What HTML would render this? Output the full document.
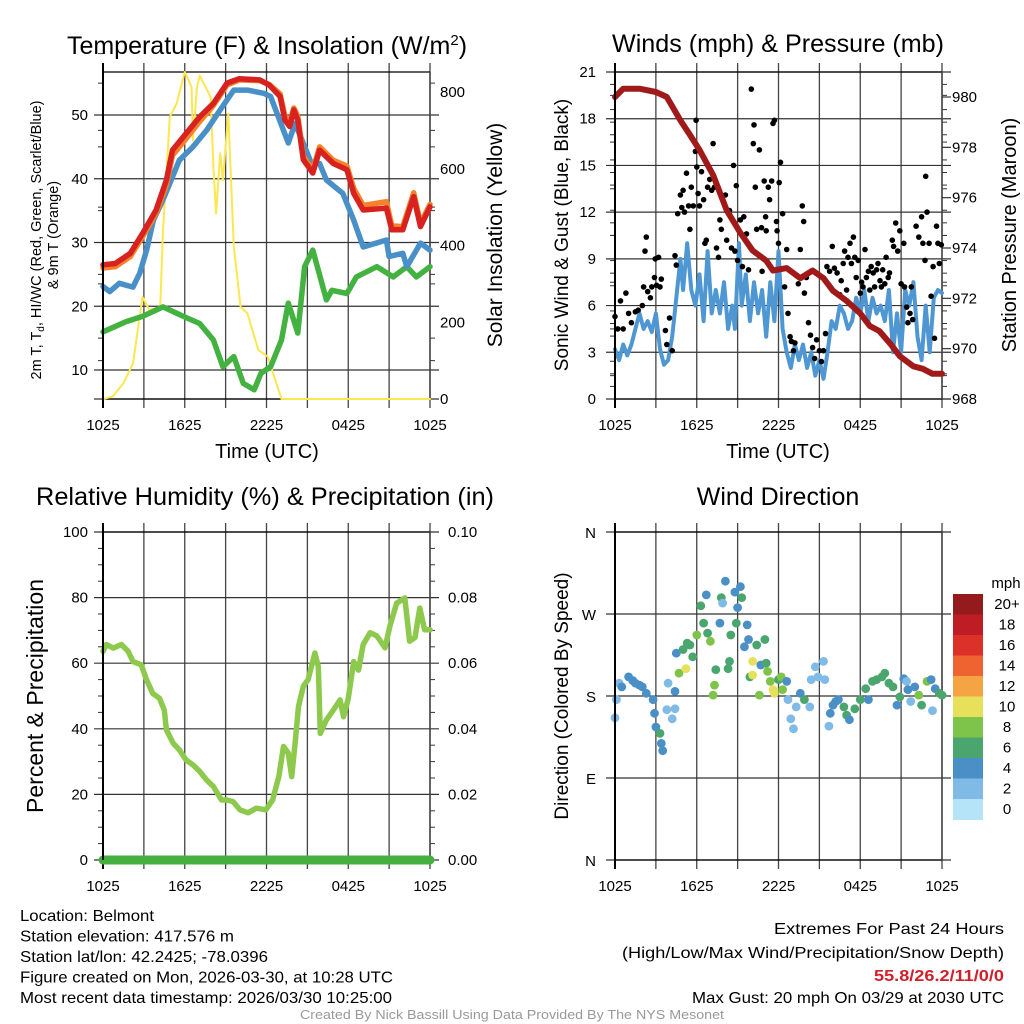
<!DOCTYPE html>
<html><head><meta charset="utf-8"><style>
html,body{margin:0;padding:0;background:#fff;}
svg{display:block;font-family:"Liberation Sans",Arial,sans-serif;}
</style></head><body>
<svg id="c" width="1024" height="1024" viewBox="0 0 1024 1024" xmlns="http://www.w3.org/2000/svg"></svg>
<script>
// ---------- DATA ----------
const timeTickLabels = ["1025","1625","2225","0425","1025"];
const tempTicks = [10,20,30,40,50];
const solarTicks = [0,200,400,600,800];
const windTicks = [0,3,6,9,12,15,18,21];
const presTicks = [968,970,972,974,976,978,980];
const rhTicks = [0,20,40,60,80,100];
const precipTicks = ["0.00","0.02","0.04","0.06","0.08","0.10"];
const dirLabels = ["N","E","S","W","N"];
const speedBins = ["0","2","4","6","8","10","12","14","16","18","20+"];
const speedColors = ["#b5e3f7","#7fbbe6","#4a8fc6","#4aa66e","#7ec34a","#e6e05a","#f5a444","#ee6330","#dc3128","#bf1d26","#941a1c"];

const tempT   = [0,0.9,2,2.9,3.9,4.65,5.1,6.1,7.1,8.1,9.1,10,11.5,12.2,13,13.35,13.7,14,14.3,14.7,15.4,15.9,16.9,17.9,18.4,19.1,20.8,21.2,22,22.8,23.3,24];
const tempV   = [26.5,26.7,28.3,31.4,35.1,39.8,44.5,47.1,49.7,51.8,55,55.7,55.5,54.7,52.9,49.2,48.2,50.8,49.2,43,40.9,44.5,42.4,41.4,37.7,35.1,35.4,32,32,37.2,32.5,35.6];
const temp9T  = [0,0.9,2,2.9,3.9,4.65,5.1,6.1,7.1,8.1,9.1,10,11.5,12.2,13,13.35,13.7,14,14.3,14.7,15.4,15.9,16.9,17.9,18.4,19.1,20.8,21.2,22,22.8,23.3,24];
const temp9V  = [26,26.2,27.8,30.9,34.6,39,43.7,46.3,49,51.5,54.7,55.5,55.4,54.8,53.3,49.8,48.8,51.1,49.8,43.5,41.4,45,42.9,42,38.5,35.8,36.4,32.6,32.5,37.8,33,36];
const chillT  = [0,0.5,1.2,2.2,2.7,3.2,3.7,4.4,5.1,5.6,6.6,7.6,8.6,9.6,10.6,11.8,12.3,13.6,14.1,14.6,15.3,15.9,16.4,17.6,18.4,19.1,20.8,21,22,22.3,23.3,24];
const chillV  = [23.1,22.3,23.6,23,25.2,28.8,33.5,36.7,40.3,42.9,45,47.6,50.8,53.9,53.9,53.4,52.9,45.6,48.7,46.1,42.4,42.4,39.8,37.7,33.5,29.3,30.4,27.8,28.3,26.2,29.9,28.8];
const dewT    = [0,1.7,2.9,4.4,5.9,7.1,8.1,8.8,9.6,10.3,11.1,11.6,12.3,13.1,13.6,14.3,14.8,15.4,16.4,16.8,17.9,18.6,20.1,21.3,22.3,23,24];
const dewV    = [16,17.6,18.4,19.9,18.4,17.3,14.7,10.5,12.1,7.9,6.9,9.5,10.5,14.7,20.5,15.8,26.2,28.8,21,22.5,22,24.6,26.2,24.6,26.2,24.6,26.2];
const solarT  = [0,0.7,1.5,2.2,2.9,3.4,4.2,4.4,4.9,5.4,6,6.5,6.6,6.9,7.1,7.9,8.1,8.3,8.6,8.8,9.2,9.6,10.1,10.6,11.4,12.1,12.8,13.1,24];
const solarV  = [0,6,41,93,266,232,240,440,735,770,852,813,674,813,843,787,605,483,640,570,744,397,240,223,128,110,32,0,0];
const presT   = [0,0.6,1.8,3,3.8,4.8,5.5,6.2,7.2,8.2,9.2,10.1,11.1,11.6,12.6,13.6,14.5,15.3,16,17,18,18.7,19.4,20.2,20.9,21.9,22.6,23.3,24];
const presV   = [980,980.33,980.33,980.2,980,979.07,978.5,977.9,976.9,975.5,974.6,973.9,973.5,973.1,973.2,972.8,973.1,972.8,972.3,971.9,971.4,970.9,970.7,970.2,969.7,969.3,969.2,969,969];
const windT   = [0,0.3,0.6,0.9,1.2,1.5,1.8,2.1,2.4,2.7,3,3.3,3.6,3.9,4.2,4.5,4.8,5,5.3,5.6,5.9,6.2,6.5,6.8,7.1,7.4,7.7,8,8.3,8.6,8.8,9.1,9.3,9.6,9.9,10.2,10.5,10.8,11.1,11.4,11.7,12,12.3,12.6,12.9,13.2,13.5,13.8,14.1,14.4,14.7,15,15.3,15.6,15.9,16.2,16.5,16.8,17.1,17.4,17.7,18,18.3,18.6,18.9,19.2,19.5,19.8,20.1,20.4,20.7,21,21.3,21.6,21.9,22.2,22.5,22.8,23.1,23.4,23.7,24];
const windV   = [3.2,2.5,3.5,2.8,3.5,4.5,5.5,4.5,5,4.3,5.5,3.2,2.2,2.5,4,6.5,9,7,10,7,6,8,5,9.5,5.5,7,5.5,7.5,4.5,6,4.5,10,6,8,5,7.5,5.5,7,4,7.5,5,9.5,4.5,3,2,3.5,2.5,3.5,2,3,1.5,2.5,1.3,3,5,4.5,6,5.5,4.5,5,6.5,5.5,7,5,6.5,5.5,6,5,7,3,5.5,3,7,6,7.5,4,2.5,6,3,6.5,7,6.8];
const gustT   = [0,0.2,0.4,0.6,0.8,1,1.2,1.5,1.7,2,2.1,2.2,2.3,2.4,2.6,2.7,2.9,2.95,3.2,3.05,3.3,3.4,3.7,3.8,4,4.2,4.4,4.5,4.6,4.8,4.9,5,5.1,5.25,5.4,5.5,5.6,5.75,5.9,5.95,6,6.1,6.2,6.35,6.5,6.6,6.7,6.8,6.95,7.1,7.2,7.3,7.45,7.6,7.7,7.8,8.1,8.2,8.4,8.55,8.7,8.8,8.9,9,9.2,9.35,9.45,9.65,9.8,10,10.15,10.2,10.3,10.4,10.6,10.75,10.8,10.95,11.05,11.1,11.25,11.35,11.5,11.6,11.7,11.85,11.9,12,12.05,12.15,12.3,12.45,12.6,12.7,12.85,12.95,13.1,13.2,13.45,13.6,13.75,13.85,13.9,14.05,14.2,14.35,14.5,14.65,14.8,15,15.15,15.3,15.45,15.55,15.75,15.95,16.1,16.3,16.5,16.6,16.75,16.85,17,17.1,17.25,17.35,17.5,17.6,17.7,17.85,18,18.1,18.2,18.35,18.45,18.6,18.7,18.8,18.95,19.05,19.2,19.3,19.45,19.55,19.65,19.8,19.9,20.05,20.15,20.35,20.45,20.6,20.75,20.9,21,21.2,21.25,21.4,21.5,21.65,21.75,21.85,22.1,22.3,22.5,22.6,22.75,22.8,22.9,23.05,23.2,23.35,23.45,23.6,23.7,23.8,23.95];
const gustV   = [5.3,4.5,6.3,4.5,6.8,5.5,4.9,5.6,5.7,6,7.2,9.5,10.4,6.9,6.5,7.2,7.8,9,9.1,7.3,7.2,7.7,4.4,3.5,5.2,3.1,9.2,8.6,11.9,13.1,12.3,13.4,12,14.5,12.4,10.9,13.6,12.4,15.9,17.9,14.9,13.2,12.4,14.6,12.8,10,10.2,13.6,14.1,13.4,16.4,13.6,9.7,9.1,11.5,10.9,13.1,10.2,12.1,9.7,15,9.5,13.7,8.9,11.5,8.5,11.7,10.6,8.3,19.9,16.4,17.6,13.6,10.9,16,11,8.2,14,11.7,10.8,13.6,12.8,14,17.7,17.9,11.4,10.8,10,13.9,15.2,11.9,7.2,9.6,5.5,4,3.7,3.1,3.6,7.4,9.6,12.4,11.4,6.8,7.8,4.9,4.1,3.3,2.6,3.8,3.1,2.4,3.1,4.2,8.5,8.2,9.8,8.4,8.1,6.7,7.6,8.7,9.5,7,9.1,10,8.7,10.4,9.1,7.8,8.9,6.8,7.5,7.2,9.6,7.8,8.2,7,8.5,8.1,7.2,8.3,8.7,7.6,7.2,8.3,7.4,9.1,7.8,8.1,10.2,9.8,11.3,9.5,10.8,7.4,10,7.2,5.9,4.9,5.5,7.2,5.1,11.1,10.4,11.7,10,8.9,14.3,12,10,6.6,8.5,3.9,11.1,10,8.7,9.9];
const rhT     = [0,0.25,0.75,1.35,1.85,2.2,2.8,3.2,3.65,4.15,4.5,4.65,5.15,5.6,6.1,6.6,7.1,7.6,8.1,8.7,9.1,9.55,10.05,10.65,11.25,11.95,12.45,12.9,13.25,13.6,13.85,14.1,14.35,14.7,15.05,15.55,15.8,15.95,16.4,16.9,17.4,17.65,18,18.4,18.75,19.1,19.6,20.1,20.7,21.05,21.55,22.15,22.5,22.9,23.25,23.6,24];
const rhV     = [63.6,65.7,64.6,65.7,63.6,60.5,59.5,54.9,50.8,49.3,45.7,39.7,35.6,33.6,30.5,29,27,24.4,22.4,18.3,18.3,17.8,15.3,14.4,15.8,15.3,18.3,25.4,34.6,32.6,25.4,35.6,46.8,53,55,63.1,59,38.6,42.7,45.7,48.8,43.7,49.3,60.5,57.9,65.7,69.3,68.3,64.7,71.2,78.3,79.9,66.7,67.8,76.8,70.2,70.2];
const precipT = [0,24];
const precipV = [0,0];
const dirT    = [0,0.1,0.3,0.5,1,1.3,1.5,1.8,2,2.3,2.8,2.9,3,3.3,3.4,3.5,3.8,3.9,4.2,4.4,4.4,4.5,4.7,5,5.2,5.3,5.5,5.7,6,6.3,6.5,6.7,6.8,7,7.2,7.3,7.4,7.7,7.8,7.9,8.1,8.3,8.4,8.5,8.8,8.9,9,9.2,9.3,9.5,9.7,9.8,9.9,10.1,10.1,10.4,10.6,10.7,11,11.1,11.2,11.4,11.6,11.7,12,12.2,12.3,12.6,12.7,12.9,13.1,13.3,13.6,13.9,14.3,14.4,14.7,14.9,15.3,15.4,15.7,15.8,16,16.2,16.4,16.8,17,17.2,17.6,18,18.4,18.6,18.9,19.2,19.6,19.8,20.1,20.4,20.7,20.9,21.2,21.4,21.5,21.7,22,22.3,22.5,22.9,23.2,23.3,23.5,23.8,24];
const dirV    = [156,176,194,190,201,197,194,192,190,183,176,161,146,139,128,120,165,194,155,166,185,227,205,231,210,238,236,223,247,279,260,291,249,240,181,192,209,260,288,282,306,210,218,247,294,260,277,300,288,234,258,242,201,218,203,236,181,214,242,216,207,196,187,183,198,201,187,196,176,155,144,168,183,176,168,198,212,201,218,198,147,161,170,174,176,168,159,154,166,176,188,176,196,198,201,205,194,190,170,179,199,196,187,174,190,181,170,196,198,164,188,183,181];
const dirS    = [3,3,3,5,5,5,5,5,5,5,5,5,5,7,5,5,3,3,3,3,5,5,9,7,11,7,7,7,9,7,7,5,7,9,9,9,7,5,7,3,5,7,7,7,5,7,5,5,7,5,5,5,7,11,11,7,9,5,7,7,9,9,11,11,7,9,9,5,3,3,3,3,5,7,3,3,3,3,3,3,3,5,5,5,5,7,7,5,7,7,7,5,7,7,7,7,7,7,5,7,5,3,5,3,5,9,7,9,5,3,5,7,7];

// ---------- HELPERS ----------
const NS="http://www.w3.org/2000/svg";
const svg=document.getElementById('c');
function mk(tag,parent){const e=document.createElementNS(NS,tag);(parent||svg).appendChild(e);return e;}
function txt(s,x,y,size,anchor,parent,rot){const e=mk('text',parent);e.textContent=s;e.setAttribute('x',x);e.setAttribute('y',y);e.setAttribute('font-size',size);e.setAttribute('text-anchor',anchor||'middle');if(rot){e.setAttribute('transform','rotate(-90 '+x+' '+y+')');}return e;}
function fit(e,len){e.setAttribute('textLength',len);e.setAttribute('lengthAdjust','spacingAndGlyphs');}
function line(x1,y1,x2,y2,stroke,w,parent){const e=mk('line',parent);e.setAttribute('x1',x1);e.setAttribute('y1',y1);e.setAttribute('x2',x2);e.setAttribute('y2',y2);e.setAttribute('stroke',stroke);e.setAttribute('stroke-width',w);return e;}
function poly(ts,vs,sx,sy,stroke,w,parent){const e=mk('polyline',parent);e.setAttribute('points',ts.map((t,i)=>sx(t).toFixed(1)+','+sy(vs[i]).toFixed(1)).join(' '));e.setAttribute('fill','none');e.setAttribute('stroke',stroke);e.setAttribute('stroke-width',w);e.setAttribute('stroke-linejoin','round');e.setAttribute('stroke-linecap','round');return e;}
function colorFor(s){let i=Math.min(10,Math.floor(s/2));return speedColors[i];}

function panel(L,R,T,B){
  const sx=t=>L+t*(R-L)/24;
  return {L,R,T,B,sx};
}
function frame(p,g,hLines,minorY){
  for(let k=0;k<=8;k++){const x=p.sx(k*3);const l=line(x,p.T-9,x,p.B+9,(k==0)?'#000':'#444',(k==0)?2:1.3,g);}
  hLines.forEach(y=>{const l=line(p.L-9,y,p.R+9,y,'#333',1.2,g);});
  (minorY||[]).forEach(y=>{line(p.L-5,y,p.L,y,'#333',1,g);line(p.R,y,p.R+5,y,'#333',1,g);});
  line(p.L,p.T,p.R,p.T,'#000',1.3,g);
  line(p.L,p.B,p.R,p.B,'#000',1.3,g);
  line(p.R,p.T,p.R,p.B,'#444',1.5,g);
}
function xLabels(p,g,y){timeTickLabels.forEach((s,i)=>{const e=txt(s,p.sx(i*6),y,15,'middle',g);});}

// ---------- PANEL 1: Temperature ----------
{
const g=mk('g');
const p=panel(103,430,72,399);
const yT=v=>370-(v-10)*6.375;
const yS=v=>399-v*307/800;
frame(p,g,tempTicks.map(yT).concat([399]),solarTicks.map(v=>yS(v+100)).concat([yT(15),yT(25),yT(35),yT(45),yT(55)]));
const t=txt('',267,54,25,'middle',g);
t.innerHTML='Temperature (F) &amp; Insolation (W/m<tspan dy="-9" font-size="15">2</tspan><tspan dy="9">)</tspan>';
tempTicks.forEach(v=>{const e=txt(String(v),88,yT(v)+5,15,'end',g);});
solarTicks.forEach(v=>{const e=txt(String(v),440,yS(v)+5,15,'start',g);});
xLabels(p,g,430);
let e=txt('Time (UTC)',267,458,20,'middle',g);
e=txt('',41,240,14.5,'middle',g,true);
e.innerHTML='2m T, T<tspan dy="3" font-size="10">d</tspan><tspan dy="-3">, HI/WC (Red, Green, Scarlet/Blue)</tspan>';
e=txt('',58,235,14.5,'middle',g,true);e.textContent='& 9m T (Orange)';
e=txt('Solar Insolation (Yellow)',502,235,21,'middle',g,true);
const cp=mk('clipPath',g);cp.setAttribute('id','cp1');const r=mk('rect',cp);r.setAttribute('x',100);r.setAttribute('y',62);r.setAttribute('width',334);r.setAttribute('height',340);
const dg=mk('g',g);dg.setAttribute('clip-path','url(#cp1)');
e=poly(solarT,solarV,p.sx,yS,'#fde74f',2,dg);
e=poly(dewT,dewV,p.sx,yT,'#43b240',5.5,dg);
e=poly(chillT,chillV,p.sx,yT,'#4a90c8',5.5,dg);
e=poly(temp9T,temp9V,p.sx,yT,'#f5822a',5.5,dg);
e=poly(tempT,tempV,p.sx,yT,'#d7221f',5.5,dg);
line(p.L,p.T-9,p.L,p.B+9,'#000',2,g);
}

// ---------- PANEL 2: Winds ----------
{
const g=mk('g');
const p=panel(615,942,72,399);
const yW=v=>399-v*327/21;
const yP=v=>399-(v-968)*302/12;
const minor=[];for(let v=968.5;v<981;v+=0.5){if(Math.abs(v-Math.round(v/2)*2)>0.01)minor.push(yP(v));}
for(let v=1.5;v<21;v+=3)minor.push(yW(v));
frame(p,g,windTicks.map(yW),minor);
presTicks.forEach(v=>line(p.R,yP(v),p.R+9,yP(v),'#333',1.2,g));
let e=txt('Winds (mph) & Pressure (mb)',778,52,25,'middle',g);fit(e,332);
windTicks.forEach(v=>{const t=txt(String(v),596,yW(v)+5,15,'end',g);});
presTicks.forEach(v=>{const t=txt(String(v),952,yP(v)+5,15,'start',g);});
xLabels(p,g,430);
e=txt('Time (UTC)',778,458,20,'middle',g);
e=txt('Sonic Wind & Gust (Blue, Black)',568,235,19,'middle',g,true);
e=txt('Station Pressure (Maroon)',1016,235,20,'middle',g,true);
e=poly(windT,windV,p.sx,yW,'#4f97d2',4,g);
const gg=mk('g',g);
gustT.forEach((t,i)=>{const c=mk('circle',gg);c.setAttribute('cx',p.sx(t).toFixed(1));c.setAttribute('cy',yW(gustV[i]).toFixed(1));c.setAttribute('r',2.8);c.setAttribute('fill','#000');});
e=poly(presT,presV,p.sx,yP,'#a01a1a',6,g);
line(p.L,p.T-9,p.L,p.B+9,'#000',2,g);
}

// ---------- PANEL 3: RH ----------
{
const g=mk('g');
const p=panel(103,430,532,860);
const yR=v=>860-v*3.28;
const yPr=v=>860-v*3280;
const minor=[];for(let v=10;v<100;v+=20)minor.push(yR(v));for(let v=5;v<100;v+=10)minor.push(yR(v));
frame(p,g,rhTicks.map(yR),minor);
let e=txt('Relative Humidity (%) & Precipitation (in)',265,505,25,'middle',g);fit(e,458);
rhTicks.forEach(v=>{const t=txt(String(v),88,yR(v)+5,15,'end',g);});
precipTicks.forEach(s=>{const t=txt(s,448,yPr(parseFloat(s))+5,15,'start',g);});
xLabels(p,g,891);
e=txt('Percent & Precipitation',43,696,23,'middle',g,true);
e=poly(rhT,rhV,p.sx,yR,'#8dc94c',5.5,g);
e=poly(precipT,precipV,p.sx,yPr,'#45b040',9,g);
line(p.L,p.T-9,p.L,p.B,'#000',2,g);
}

// ---------- PANEL 4: Wind Direction ----------
{
const g=mk('g');
const p=panel(615,942,532,860);
const yD=v=>860-v*328/360;
frame(p,g,[0,90,180,270,360].map(yD),[]);
let e=txt('Wind Direction',778,505,25,'middle',g);
dirLabels.forEach((s,i)=>{const t=txt(s,596,yD(i*90)+6,15,'end',g);});
xLabels(p,g,891);
e=txt('Direction (Colored By Speed)',568,696,19,'middle',g,true);
const dg=mk('g',g);
dirT.forEach((t,i)=>{const c=mk('circle',dg);c.setAttribute('cx',p.sx(t).toFixed(1));c.setAttribute('cy',yD(dirV[i]).toFixed(1));c.setAttribute('r',4.4);c.setAttribute('fill',colorFor(dirS[i]));});
line(p.L,p.T-9,p.L,p.B,'#000',2,g);
const lg=mk('g',g);
e=txt('mph',1006,588,15,'middle',lg);
const top=594,h=20.5;
speedBins.forEach((s,i)=>{const k=10-i;const r=mk('rect',lg);r.setAttribute('x',953);r.setAttribute('y',(top+i*h).toFixed(1));r.setAttribute('width',30);r.setAttribute('height',h+0.5);r.setAttribute('fill',speedColors[k]);
const t=txt(speedBins[k],1007,top+i*h+15,15,'middle',lg);});
}

// ---------- FOOTER ----------
{
const g=mk('g');
const L=["Location: Belmont","Station elevation: 417.576 m","Station lat/lon: 42.2425; -78.0396","Figure created on Mon, 2026-03-30, at 10:28 UTC","Most recent data timestamp: 2026/03/30 10:25:00"];
const Lw=[134,214,248,373,372];
L.forEach((s,i)=>{const t=txt(s,20,921+i*20.5,16,'start',g);fit(t,Lw[i]);});
let t=txt('Extremes For Past 24 Hours',1004,934,16,'end',g);fit(t,230);
t=txt('(High/Low/Max Wind/Precipitation/Snow Depth)',1004,958,16,'end',g);fit(t,382);
t=txt('55.8/26.2/11/0/0',1004,981,16,'end',g);fit(t,130);t.setAttribute('fill','#d0202a');t.setAttribute('font-weight','bold');
t=txt('Max Gust: 20 mph On 03/29 at 2030 UTC',1004,1003,16,'end',g);fit(t,312);
t=txt('Created By Nick Bassill Using Data Provided By The NYS Mesonet',512,1019,12.5,'middle',g);fit(t,424);t.setAttribute('fill','#999');
}
</script>
</body></html>
